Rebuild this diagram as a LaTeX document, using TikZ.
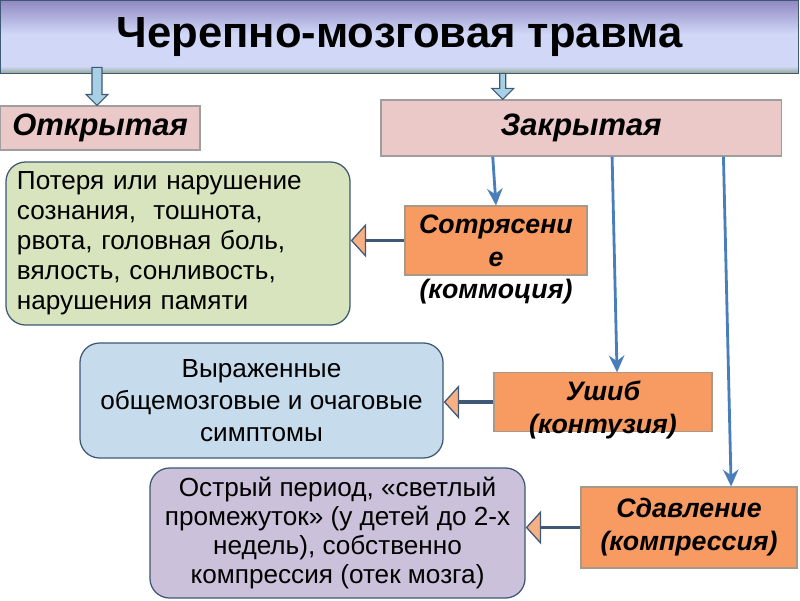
\documentclass[tikz,border=0pt]{standalone}
\usepackage{fontspec}
\setmainfont{Liberation Sans}
\usetikzlibrary{arrows.meta, calc}

\definecolor{tpurple}{HTML}{9089C2}
\definecolor{tlight}{HTML}{D0D7F7}
\definecolor{tgreen}{HTML}{8FA88A}
\definecolor{slate}{HTML}{3E5876}
\definecolor{pinkfill}{HTML}{ECC9C9}
\definecolor{pinkline}{HTML}{9E9E9E}
\definecolor{orangefill}{HTML}{F89B63}
\definecolor{orangeline}{HTML}{A89888}
\definecolor{greenfill}{HTML}{D7E4BD}
\definecolor{bluefill}{HTML}{C6DBEC}
\definecolor{purplefill}{HTML}{CCC1DA}
\definecolor{arrblue}{HTML}{4A7EBB}
\definecolor{trifill}{HTML}{F6B084}
\definecolor{blockfill}{HTML}{A8D0E4}

\pgfdeclareverticalshading{titleshade}{100bp}{color(0bp)=(tgreen); color(25bp)=(tgreen); color(30bp)=(tlight); color(52bp)=(tlight); color(75bp)=(tpurple); color(100bp)=(tpurple)}

\newcommand{\lowered}[1]{\raisebox{-6pt}[\height][\depth]{#1}}

\tikzset{
  kind/.style={draw=pinkline, fill=pinkfill, line width=0.8pt, inner sep=0pt,
    font=\bfseries\itshape\fontsize{22}{26}\selectfont},
  form/.style={draw=orangeline, fill=orangefill, line width=0.8pt, inner sep=0pt, align=center,
    font=\bfseries\itshape\fontsize{19}{23.5}\selectfont},
  sympt/.style={draw=slate, line width=0.9pt, rounded corners=14pt, inner sep=0pt,
    font=\fontsize{18.6}{21.3}\selectfont},
  down/.style={-{Stealth[length=12pt,width=11pt,inset=4pt]}, draw=arrblue, line width=2pt},
  toward/.style={-{Triangle[length=11pt,width=24pt,line width=0.9pt,fill=trifill]}, draw=slate, line width=2.7pt},
  blockarr/.style={draw=slate, fill=blockfill, line width=0.8pt, line join=miter},
}

\begin{document}
\begin{tikzpicture}[x=0.025cm, y=-0.025cm]
  \useasboundingbox (0,0) rectangle (800,600);

  % title bar
  \node[draw=slate, line width=0.8pt, shade, shading=titleshade, minimum width=19.95cm, minimum height=1.83cm,
    inner sep=0pt, font=\bfseries\fontsize{31}{36}\selectfont] (title) at (399.5,37) {Черепно-мозговая травма};

  % kinds
  \node[kind, minimum width=5cm, minimum height=1.1cm] (otkr) at (100,128) {Открытая};
  \node[kind, minimum width=10cm, minimum height=1.4cm] (zakr) at (581,128) {Закрытая};

  % forms of the closed trauma
  \node[form, minimum width=4.55cm, minimum height=1.725cm,
    label={[font=\bfseries\itshape\fontsize{19}{23}\selectfont, inner sep=0pt, label distance=2pt]below:(коммоция)}]
    (sotr) at (496,240.5) {Сотрясени\\е};
  \node[form, minimum width=5.45cm, minimum height=1.4cm] (ushib) at (603,402)
    {\lowered{Ушиб}\\\lowered{(контузия)}};
  \node[form, minimum width=5.4cm, minimum height=2.025cm] (sdavl) at (689,527.5) {Сдавление\\(компрессия)};

  % symptoms
  \node[sympt, fill=greenfill, minimum width=8.6cm, minimum height=4.075cm, inner xsep=0.275cm,
    text width=8.05cm, align=left] (green) at (178,243.5)
    {Потеря или нарушение\\сознания,\ \ тошнота,\\рвота, головная боль,\\вялость, сонливость,\\нарушения памяти};
  \node[sympt, fill=bluefill, minimum width=9.075cm, minimum height=2.875cm, align=center,
    font=\fontsize{18.6}{22.8}\selectfont] (blue) at (261.5,400.5)
    {Выраженные\\общемозговые и очаговые\\симптомы};
  \node[sympt, fill=purplefill, minimum width=9.375cm, minimum height=3.25cm, align=center,
    font=\fontsize{18.6}{20.8}\selectfont] (purple) at (337.5,533)
    {Острый период, «светлый\\промежуток» (у детей до 2-х\\недель), собственно\\компрессия (отек мозга)};

  % block arrows from the title
  \coordinate (o1) at ($(otkr.north west)!0.485!(otkr.north east)$);
  \coordinate (z1) at ($(zakr.north west)!0.305!(zakr.north east)$);
  \draw[blockarr] (o1) ++(-5,-38) -- ++(0,27) -- ++(-6,0) -- (o1) -- ++(11,-11) -- ++(-6,0) -- ++(0,-27) -- cycle;
  \draw[blockarr] (z1) ++(-3,-26) -- ++(0,15) -- ++(-8,0) -- (z1) -- ++(11,-11) -- ++(-8,0) -- ++(0,-15) -- cycle;

  % arrows down to the forms
  \draw[down] ($(zakr.south west)!0.28!(zakr.south east)$) -- (sotr.north);
  \draw[down] ($(zakr.south west)!0.5775!(zakr.south east)$) -- ($(ushib.north west)!0.564!(ushib.north east)$);
  \draw[down] ($(zakr.south west)!0.855!(zakr.south east)$) -- ($(sdavl.north west)!0.694!(sdavl.north east)$);

  % forms to symptoms
  \draw[toward] (sotr.west) -- (sotr.west -| green.east);
  \draw[toward] (ushib.west) -- (ushib.west -| blue.east);
  \draw[toward] (sdavl.west) -- (sdavl.west -| purple.east);
\end{tikzpicture}
\end{document}
